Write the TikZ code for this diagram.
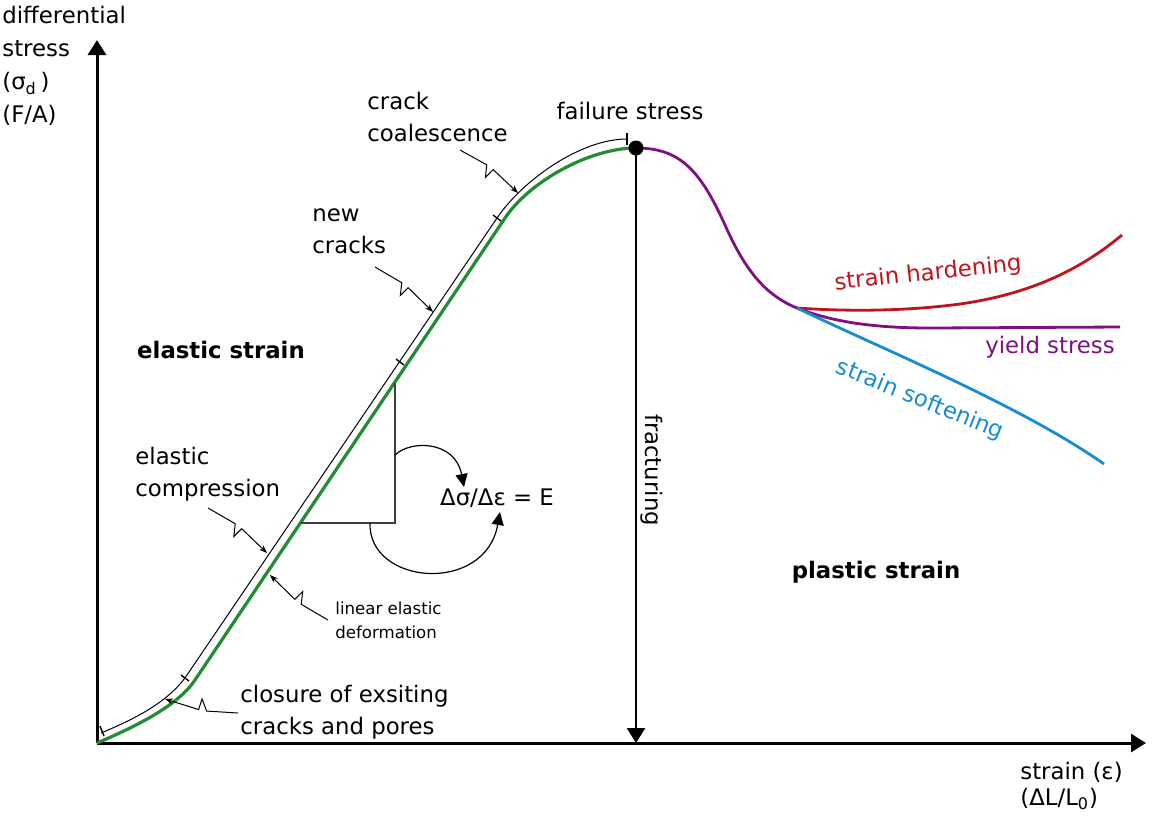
\documentclass[tikz,border=0pt]{standalone}
\usepackage{fontspec}
\setmainfont{DejaVu Sans}
\usetikzlibrary{positioning,arrows.meta,calc}

\definecolor{elasticgreen}{RGB}{34,139,52}
\definecolor{yieldpurple}{RGB}{128,16,128}
\definecolor{hardred}{RGB}{190,20,30}
\definecolor{softblue}{RGB}{24,140,210}

\tikzset{
  axis/.style={line width=1.5pt,-{Triangle[length=7.5pt,width=9pt]}},
  bolt/.style={line width=0.5pt,-{Stealth[length=4pt,width=3pt]}},
  tickmark/.style={line width=0.7pt},
  turn/.style={line width=0.6pt,-{Triangle[length=6.5pt,width=6pt]}},
  lbl/.style={font=\fontsize{11.4}{16}\selectfont,align=left,inner sep=0pt},
  smalllbl/.style={font=\fontsize{8.3}{12}\selectfont,align=left,inner sep=0pt},
  regime/.style={font=\fontsize{11.4}{14}\selectfont\bfseries,inner sep=0pt},
}

% lightning arrow from #1 to #2
\newcommand{\boltarrow}[2]{%
  \draw[bolt] (#1) -- ($(#1)!0.42!(#2)!2pt!-90:(#2)$)
    -- ($(#1)!0.51!(#2)!3.5pt!90:(#2)$)
    -- ($(#1)!0.53!(#2)!2pt!-90:(#2)$) -- (#2);}

\begin{document}
\begin{tikzpicture}[x=0.5pt,y=0.5pt,yscale=-1,xscale=1]
        \useasboundingbox (0,0) rectangle (1155,816);
        %Axes
        \coordinate (O) at (97,743);
        \coordinate (ytip) at (97,40);
        \coordinate (xtip) at (1146,743);
        \draw[axis] (O) -- (ytip);
        \draw[axis] (O) -- (xtip);
        \node[lbl,anchor=west,font=\fontsize{11.4}{16.5}\selectfont] (ylab) at (2,66) {differential\\stress\\(σ\textsubscript{d}\,)\\(F/A)};
        \node[lbl,anchor=west,font=\fontsize{11.4}{13}\selectfont] (xlab) at (1020,786) {strain (ε)\\(ΔL/L\textsubscript{0})};
        %Curve Lines: crack stages
        \draw[line width=0.5pt] (101,733) .. controls (132,720) and (168,703) .. (187,675) -- (497,218) .. controls (522,181) and (580,139) .. (627,139);
        \draw[tickmark] (100,726) -- (104,736);
        \draw[tickmark] (181,675) -- (189,681);
        \draw[tickmark] (396,359) -- (404,365);
        \draw[tickmark] (493,215) -- (501,221);
        \draw[tickmark] (627,133) -- (627,145);
        %Curve Lines: elastic part
        \coordinate (peak) at (636,148);
        \draw[elasticgreen,line width=1.6pt] (O) .. controls (132,728) and (177,707) .. (195,680) -- (505,218) .. controls (530,181) and (590,148) .. (peak);
        %Slope triangle
        \draw[black!75,line width=0.6pt] (301,523) -- (395,523) -- (395,383);
        \node[lbl] (modulus) at (497,498) {Δσ/Δε = E};
        \draw[turn] (395,455) .. controls (410,440) and (455,440) .. (464,487);
        \draw[turn] (370,523) .. controls (368,585) and (485,595) .. (500,512);
        %Curve Lines: plastic part
        \coordinate (yieldpt) at (797,308);
        \draw[yieldpurple,line width=1.4pt] (peak) .. controls (680,148) and (700,170) .. (725,225) .. controls (745,270) and (765,295) .. (yieldpt) .. controls (830,321) and (870,328) .. (930,328) -- (1120,327);
        \draw[hardred,line width=1.4pt] (yieldpt) .. controls (840,311) and (900,312) .. (960,304) .. controls (1030,294) and (1080,270) .. (1122,235);
        \draw[softblue,line width=1.4pt] (yieldpt) .. controls (880,348) and (1020,405) .. (1104,464);
        \node[lbl,text=hardred,rotate=6] (hard) at (928,274) {strain hardening};
        \node[lbl,text=yieldpurple] (yield) at (1050,347) {yield stress};
        \node[lbl,text=softblue,rotate=-22] (soft) at (920,400) {strain softening};
        %Straight Lines: fracturing
        \draw[line width=1.2pt,-{Triangle[length=7.5pt,width=9pt]}] (peak) -- (peak |- O);
        \node[lbl,rotate=-90] (fract) at (652,470) {fracturing};
        \node[circle,fill,inner sep=0pt,minimum size=7.5pt] (dot) at (peak) {};
        \node[lbl,above=10pt of dot,xshift=-3pt] (fail) {failure stress};
        %Regimes
        \node[regime] (elastic) at (221,350) {elastic strain};
        \node[regime] (plastic) at (876,572) {plastic strain};
        %Labels with lightning arrows
        \node[lbl,anchor=west] (coal) at (367,117) {crack\\coalescence};
        \node[lbl,anchor=west] (newc) at (312,231) {new\\cracks};
        \node[lbl,anchor=west] (comp) at (135,474) {elastic\\compression};
        \node[lbl,anchor=west] (clos) at (240,712) {closure of exsiting\\cracks and pores};
        \node[smalllbl,anchor=west] (lin) at (335,620) {linear elastic\\deformation};
        \coordinate (coal-a) at (460,150);
        \coordinate (coal-b) at (518,193);
        \coordinate (newc-a) at (375,267);
        \coordinate (newc-b) at (433,312);
        \coordinate (comp-a) at (208,508);
        \coordinate (comp-b) at (267,553);
        \coordinate (lin-a) at (328,620);
        \coordinate (lin-b) at (270,575);
        \coordinate (clos-a) at (238,713);
        \coordinate (clos-b) at (165,699);
        \boltarrow{coal-a}{coal-b}
        \boltarrow{newc-a}{newc-b}
        \boltarrow{comp-a}{comp-b}
        \boltarrow{lin-a}{lin-b}
        \boltarrow{clos-a}{clos-b}
    \end{tikzpicture}
\end{document}
